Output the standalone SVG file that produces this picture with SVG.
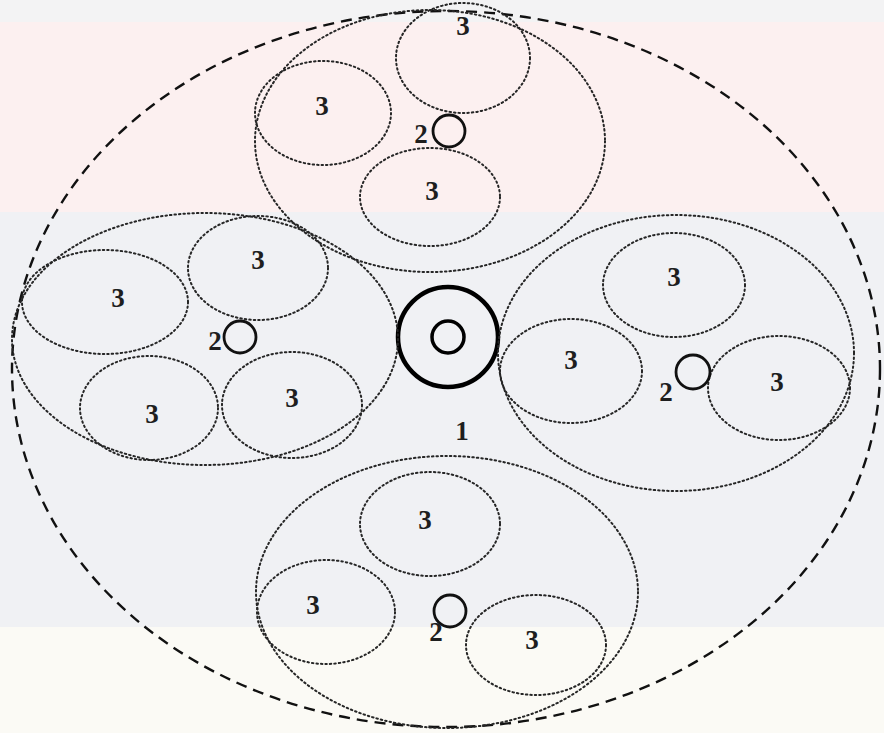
<svg xmlns="http://www.w3.org/2000/svg" width="884" height="733" viewBox="0 0 884 733">
<style>
.dot{fill:none;stroke:#262626;stroke-width:2;stroke-dasharray:1.5 3;stroke-linecap:round}
.sc{fill:none;stroke:#111;stroke-width:2.8}
.t{font-family:"Liberation Serif","Times New Roman",serif;font-weight:bold;font-size:27px;fill:#1e1e1e;text-anchor:middle}
</style>
<rect x="0" y="0" width="884" height="733" fill="#ffffff"/>
<rect x="0" y="0" width="884" height="22" fill="#f3f3f4"/>
<rect x="0" y="22" width="884" height="190" fill="#fcf0f0"/>
<rect x="0" y="212" width="884" height="415" fill="#f0f1f4"/>
<rect x="0" y="627" width="884" height="106" fill="#fbfaf5"/>
<g id="boundary">
<ellipse cx="446" cy="369" rx="434" ry="358" fill="none" stroke="#111" stroke-width="2.4" stroke-dasharray="11 7"/>
</g>
<g id="node1">
<circle cx="448" cy="337" r="50" fill="none" stroke="#000" stroke-width="4.5"/>
<circle cx="448" cy="337" r="16" fill="none" stroke="#000" stroke-width="3.5"/>
<text class="t" x="462" y="440">1</text>
</g>
<g id="cluster-top">
<ellipse class="dot" cx="430" cy="141" rx="175" ry="131"/>
<ellipse class="dot" cx="463" cy="58" rx="67" ry="55"/>
<ellipse class="dot" cx="323" cy="113" rx="68" ry="52"/>
<ellipse class="dot" cx="430" cy="197" rx="70" ry="49"/>
<circle class="sc" cx="449" cy="131" r="16"/>
<text class="t" x="463" y="35">3</text>
<text class="t" x="322" y="115">3</text>
<text class="t" x="432" y="200">3</text>
<text class="t" x="421" y="143">2</text>
</g>
<g id="cluster-left">
<ellipse class="dot" cx="205" cy="339" rx="193" ry="126"/>
<ellipse class="dot" cx="105" cy="302" rx="83" ry="52"/>
<ellipse class="dot" cx="258" cy="268" rx="70" ry="52"/>
<ellipse class="dot" cx="149" cy="408" rx="69" ry="52"/>
<ellipse class="dot" cx="292" cy="405" rx="70" ry="53"/>
<circle class="sc" cx="240" cy="337" r="16"/>
<text class="t" x="118" y="307">3</text>
<text class="t" x="258" y="269">3</text>
<text class="t" x="152" y="423">3</text>
<text class="t" x="292" y="407">3</text>
<text class="t" x="215" y="350">2</text>
</g>
<g id="cluster-right">
<ellipse class="dot" cx="676" cy="353" rx="178" ry="138"/>
<ellipse class="dot" cx="674" cy="285" rx="71" ry="52"/>
<ellipse class="dot" cx="571" cy="371" rx="71" ry="52"/>
<ellipse class="dot" cx="779" cy="388" rx="71" ry="52"/>
<circle class="sc" cx="693" cy="372" r="17"/>
<text class="t" x="674" y="286">3</text>
<text class="t" x="571" y="369">3</text>
<text class="t" x="777" y="391">3</text>
<text class="t" x="666" y="401">2</text>
</g>
<g id="cluster-bottom">
<ellipse class="dot" cx="447" cy="592" rx="191" ry="136"/>
<ellipse class="dot" cx="430" cy="524" rx="70" ry="52"/>
<ellipse class="dot" cx="326" cy="612" rx="69" ry="52"/>
<ellipse class="dot" cx="536" cy="645" rx="70" ry="50"/>
<circle class="sc" cx="450" cy="611" r="16"/>
<text class="t" x="425" y="529">3</text>
<text class="t" x="313" y="614">3</text>
<text class="t" x="532" y="649">3</text>
<text class="t" x="436" y="641">2</text>
</g>
<g id="connectors"></g>
</svg>
